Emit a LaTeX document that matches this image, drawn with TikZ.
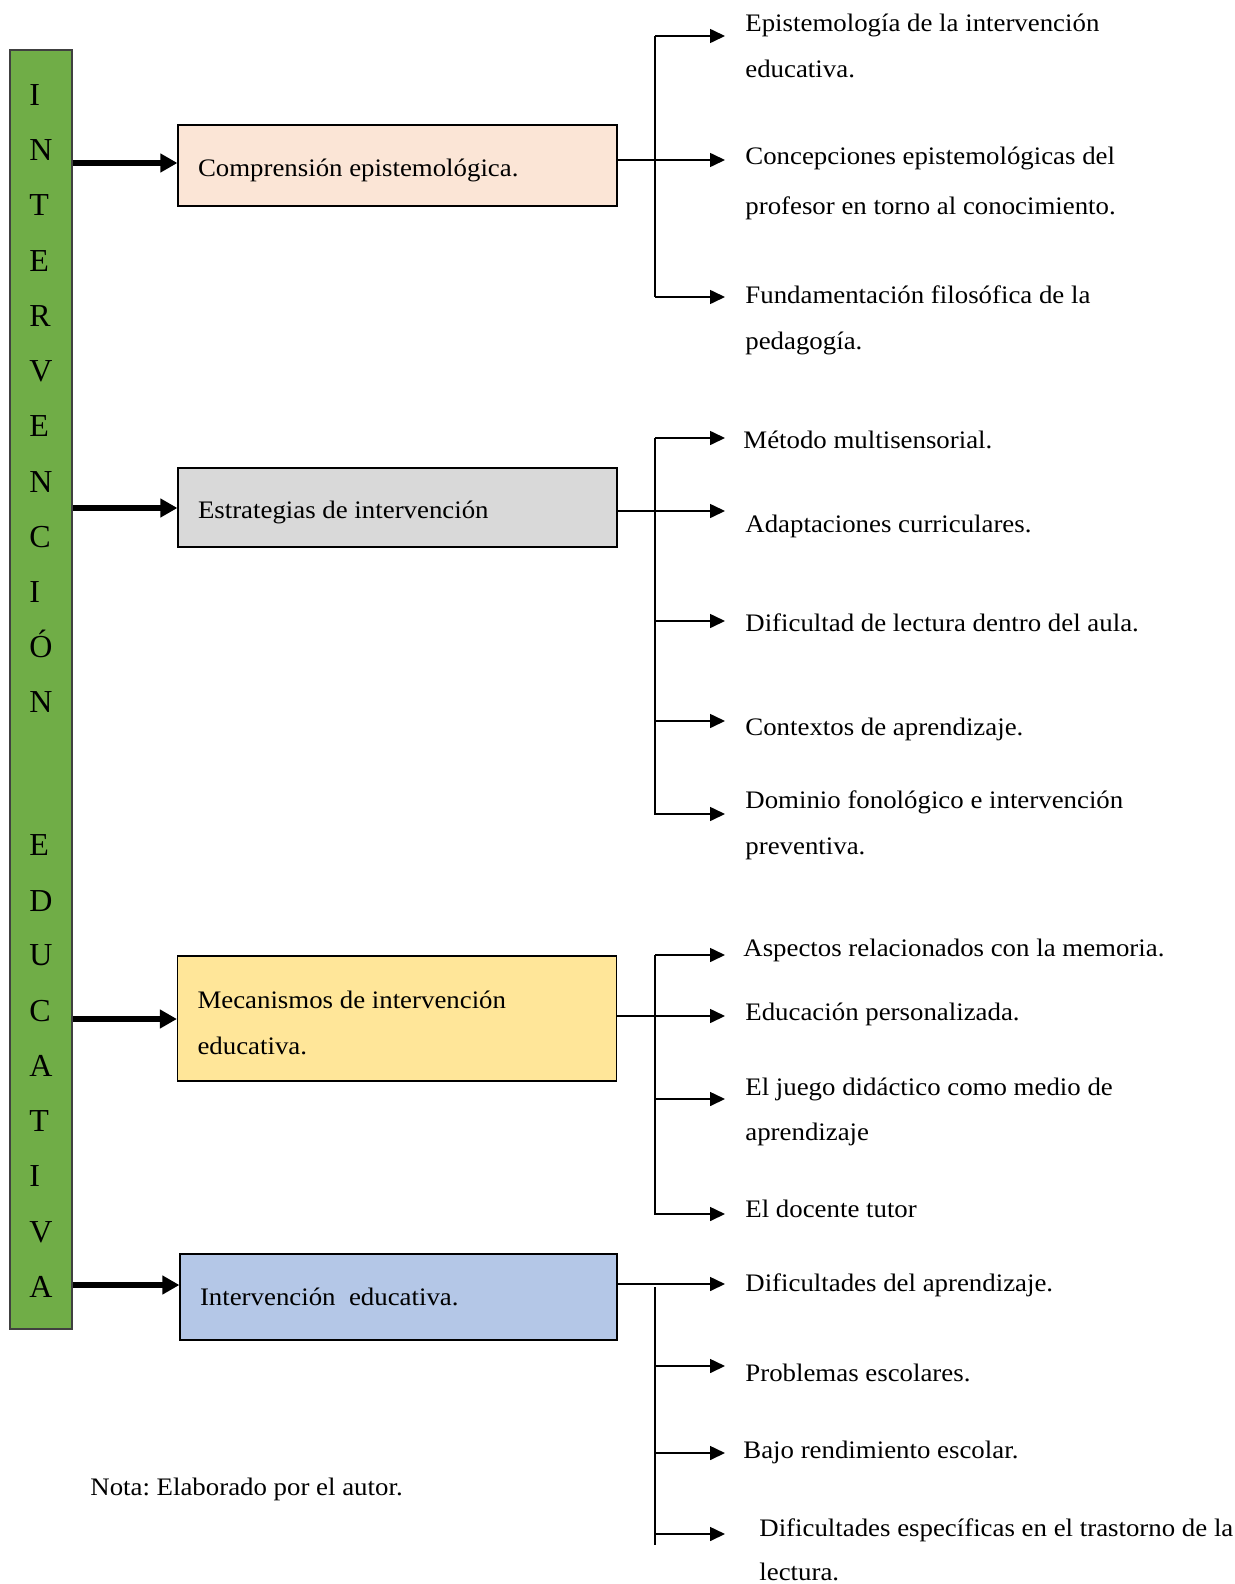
\documentclass[tikz,border=0pt]{standalone}
\usepackage{fontspec}
\setmainfont{Liberation Serif}[FakeStretch=1.065]
\newfontfamily\letterfont{Liberation Serif}
\usetikzlibrary{arrows.meta}
\definecolor{gbar}{HTML}{70AD47}
\definecolor{cpeach}{HTML}{FBE5D6}
\definecolor{cgray}{HTML}{D9D9D9}
\definecolor{cyellow}{HTML}{FFE699}
\definecolor{cblue}{HTML}{B4C7E7}
\newcommand{\bodyfont}{\fontsize{12.6}{23}\selectfont\frenchspacing}
\tikzset{
  catbox/.style={draw=black, line width=0.6pt, inner xsep=10pt, inner ysep=0pt,
    text width=199.5pt, align=flush left, font=\bodyfont},
  item/.style={anchor=west, inner sep=0pt, text height=8.3pt, text depth=0pt, font=\bodyfont, yshift=-0.5pt},
  letter/.style={anchor=west, inner sep=0pt, text height=10.6pt, text depth=0pt,
    font=\letterfont\fontsize{16}{18}\selectfont},
  mainarr/.style={line width=3pt, -{Triangle[length=8.5pt,width=9pt]}},
  br/.style={line width=0.8pt, -{Triangle[length=7.5pt,width=7pt]}},
  spine/.style={line width=0.8pt},
}
\begin{document}
\begin{tikzpicture}[x=0.5pt,y=-0.5pt]
\useasboundingbox (0,0) rectangle (1235,1584);

% green bar
\node[draw=black!75, line width=0.6pt, fill=gbar, minimum width=31pt, minimum height=639.5pt, inner sep=0pt] (bar) at (41,689.5) {};
\foreach \l/\y [count=\i] in {I/95,N/150,T/205,E/261,R/316,V/371,E/426,N/482,C/537,I/592,Ó/647,N/702,
  E/845,D/901,U/955,C/1011,A/1066,T/1121,I/1176,V/1232,A/1287}
  \node[letter] (L\i) at (29,\y) {\l};

% category boxes
\node[catbox, fill=cpeach, minimum height=40.5pt, text height=10.8pt, text depth=0pt] (b1) at (397.5,165.5) {Comprensión epistemológica.};
\node[catbox, fill=cgray, minimum height=39.5pt, text height=10.8pt, text depth=0pt] (b2) at (397.5,507.5) {Estrategias de intervención};
\node[catbox, fill=cyellow, minimum height=62.5pt] (b3) at (397,1018.5) {\rule{0pt}{13.3pt}Mecanismos de intervención\\educativa.};
\node[catbox, fill=cblue, minimum height=43pt, text width=198.5pt] (b4) at (398.5,1297) {Intervención\ \ educativa.};

% main arrows
\draw[mainarr] (bar.east |- 0,163) -- (b1.west |- 0,163);
\draw[mainarr] (bar.east |- 0,508) -- (b2.west |- 0,508);
\draw[mainarr] (bar.east |- 0,1019) -- (b3.west |- 0,1019);
\draw[mainarr] (bar.east |- 0,1285) -- (b4.west |- 0,1285);

% items
\node[item] (t1a) at (745,22) {Epistemología de la intervención};
\node[item] (t1b) at (745,68) {educativa.};
\node[item] (t2a) at (745,155) {Concepciones epistemológicas del};
\node[item] (t2b) at (745,205) {profesor en torno al conocimiento.};
\node[item] (t3a) at (745,294) {Fundamentación filosófica de la};
\node[item] (t3b) at (745,340) {pedagogía.};

\node[item] (t4) at (743,439) {Método multisensorial.};
\node[item] (t5) at (745,523) {Adaptaciones curriculares.};
\node[item] (t6) at (745,622) {Dificultad de lectura dentro del aula.};
\node[item] (t7) at (745,726) {Contextos de aprendizaje.};
\node[item] (t8a) at (745,799) {Dominio fonológico e intervención};
\node[item] (t8b) at (745,845) {preventiva.};

\node[item] (t9) at (743,947) {Aspectos relacionados con la memoria.};
\node[item] (t10) at (745,1011) {Educación personalizada.};
\node[item] (t11a) at (745,1086) {El juego didáctico como medio de};
\node[item] (t11b) at (745,1131) {aprendizaje};
\node[item] (t12) at (745,1208) {El docente tutor};

\node[item] (t13) at (745,1282) {Dificultades del aprendizaje.};
\node[item] (t14) at (745,1372) {Problemas escolares.};
\node[item] (t15) at (743,1449) {Bajo rendimiento escolar.};
\node[item] (t16a) at (759,1527) {Dificultades específicas en el trastorno de la};
\node[item] (t16b) at (759,1571) {lectura.};

\node[item] (nota) at (90,1486) {Nota: Elaborado por el autor.};

% arrow tips and spine ends
\coordinate (s1t) at (655,36);   \coordinate (s1b) at (655,297);
\coordinate (s2t) at (655,438);  \coordinate (s2b) at (655,815);
\coordinate (s3t) at (655,955);  \coordinate (s3b) at (655,1215);
\coordinate (s4t) at (655,1287); \coordinate (s4b) at (655,1545);

\foreach \n/\y in {a1/36,a2/160,a3/297,a4/438,a5/511,a6/621,a7/721,a8/814,
  a9/955,a10/1016,a11/1099,a12/1214,a13/1284,a14/1366,a15/1453,a16/1534}
  \coordinate (\n) at (725,\y);

% spines
\draw[spine] (s1t) -- (s1b);
\draw[spine] (s2t) -- (s2b);
\draw[spine] (s3t) -- (s3b);
\draw[spine] (s4t) -- (s4b);

% box to branch
\draw[br] (b1.east |- a2) -- (a2);
\draw[br] (b2.east |- a5) -- (a5);
\draw[br] (b3.east |- a10) -- (a10);
\draw[br] (b4.east |- a13) -- (a13);

% branches
\foreach \n in {a1,a3}   \draw[br] (s1t |- \n) -- (\n);
\foreach \n in {a4,a6,a7,a8} \draw[br] (s2t |- \n) -- (\n);
\foreach \n in {a9,a11,a12} \draw[br] (s3t |- \n) -- (\n);
\foreach \n in {a14,a15,a16} \draw[br] (s4t |- \n) -- (\n);
\end{tikzpicture}
\end{document}
